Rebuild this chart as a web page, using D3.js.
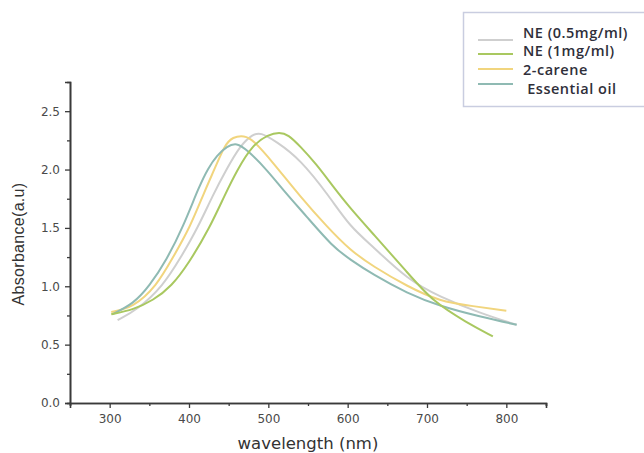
<!DOCTYPE html>
<html><head><meta charset="utf-8">
<script src="https://cdn.jsdelivr.net/npm/d3@7"></script>
<style>body{margin:0;background:#fff}svg{display:block}</style>
</head><body>
<svg id="c" width="644" height="453"></svg>
<script>
const seriesNames = ["NE (0.5mg/ml)", "NE (1mg/ml)", "2-carene", " Essential oil"];
const seriesColors = ["#cfcfcf", "#a9c860", "#f1d57e", "#8fbab3"];
const grayX = [310,335,367,390,411,430,447,465,480,490,510,540,577,603,632,675,716,767,813];
const grayY = [0.71,0.80,1.00,1.25,1.50,1.78,2.00,2.21,2.30,2.32,2.24,2.09,1.77,1.51,1.34,1.06,0.91,0.77,0.67];
const greenX = [302,330,355,378,400,426,445,461,480,500,514,525,540,560,581,603,632,675,707,750,783];
const greenY = [0.76,0.80,0.88,1.00,1.20,1.50,1.78,2.00,2.21,2.30,2.32,2.30,2.20,2.05,1.86,1.67,1.45,1.12,0.87,0.69,0.57];
const yellowX = [302,330,359,380,401,420,432,445,455,470,480,506,540,574,603,632,675,716,758,800];
const yellowY = [0.78,0.82,1.00,1.25,1.50,1.82,2.00,2.21,2.28,2.29,2.26,2.06,1.77,1.51,1.31,1.17,1.00,0.87,0.83,0.79];
const tealX = [303,330,350,372,392,413,424,435,448,460,473,498,518,548,581,603,632,675,716,767,813];
const tealY = [0.76,0.85,1.00,1.23,1.50,1.86,2.01,2.12,2.20,2.23,2.17,2.00,1.83,1.60,1.34,1.23,1.10,0.94,0.83,0.74,0.67];
const xTicks = [300,400,500,600,700,800];
const xMinor = [250,350,450,550,650,750,850];
const yTicks = [0.0,0.5,1.0,1.5,2.0,2.5];
const yMinor = [0.25,0.75,1.25,1.75,2.25];

const svg = d3.select("#c");
const x = d3.scaleLinear().domain([250,850]).range([70,546]);
const y = d3.scaleLinear().domain([0,2.75]).range([403,82]);
const axisColor = "#3a3a3a";

const seriesData = [[grayX,grayY],[greenX,greenY],[yellowX,yellowY],[tealX,tealY]]
  .map(([xs,ys]) => xs.map((v,i)=>({x:v,y:ys[i]})));

const line = d3.line().x(d=>x(d.x)).y(d=>y(d.y)).curve(d3.curveBasis);
const drawOrder = [0,2,3,1];
drawOrder.forEach(i => {
  svg.append("path").attr("d", line(seriesData[i])).attr("fill","none")
    .attr("stroke", seriesColors[i]).attr("stroke-width", 2).attr("stroke-linejoin","round");
});

// x axis
const gx = svg.append("g").attr("transform","translate(0,403)");
gx.call(d3.axisBottom(x).tickValues(xTicks).tickSize(5).tickPadding(6).tickFormat(d3.format("d")));
gx.append("g").call(d3.axisBottom(x).tickValues(xMinor).tickSize(3).tickFormat(""));
// y axis
const gy = svg.append("g").attr("transform","translate(70,0)");
gy.call(d3.axisLeft(y).tickValues(yTicks).tickSize(5).tickPadding(5).tickFormat(d3.format(".1f")));
gy.append("g").call(d3.axisLeft(y).tickValues(yMinor).tickSize(3).tickFormat(""));
svg.selectAll(".domain").attr("stroke", axisColor).attr("stroke-width",1.6);
svg.selectAll(".tick line").attr("stroke", axisColor).attr("stroke-width",1.3);
svg.selectAll(".tick text").attr("fill","#4a4a4a").style("font-family","'DejaVu Sans',sans-serif").style("font-size","12px");

svg.append("text").attr("x",308).attr("y",449).attr("text-anchor","middle")
  .attr("fill","#333").style("font-family","'DejaVu Sans',sans-serif").style("font-size","16.5px")
  .text("wavelength (nm)");
svg.append("text").attr("transform","translate(24,244) rotate(-90)").attr("text-anchor","middle")
  .attr("fill","#333").style("font-family","'Liberation Sans',Arial,sans-serif").style("font-size","16px")
  .style("letter-spacing","0.3px")
  .text("Absorbance(a.u)");

// legend
const lg = svg.append("g");
lg.append("rect").attr("x",463.5).attr("y",12.5).attr("width",190).attr("height",94)
  .attr("fill","#fff").attr("stroke","#c9cde0").attr("stroke-width",1.5);
const lineYs = [40,54,69,84];
const textYs = [38,56,75,94];
seriesNames.forEach((n,i)=>{
  lg.append("line").attr("x1",478).attr("x2",513).attr("y1",lineYs[i]).attr("y2",lineYs[i])
    .attr("stroke",seriesColors[i]).attr("stroke-width",2);
  lg.append("text").attr("x",523).attr("y",textYs[i]).attr("fill","#2f2f3a")
    .attr("xml:space","preserve").style("white-space","pre")
    .style("font-family","'Open Sans','DejaVu Sans',sans-serif").style("font-weight","600")
    .style("font-size","14.5px").style("letter-spacing","0.5px").text(n);
});
</script>
</body></html>
